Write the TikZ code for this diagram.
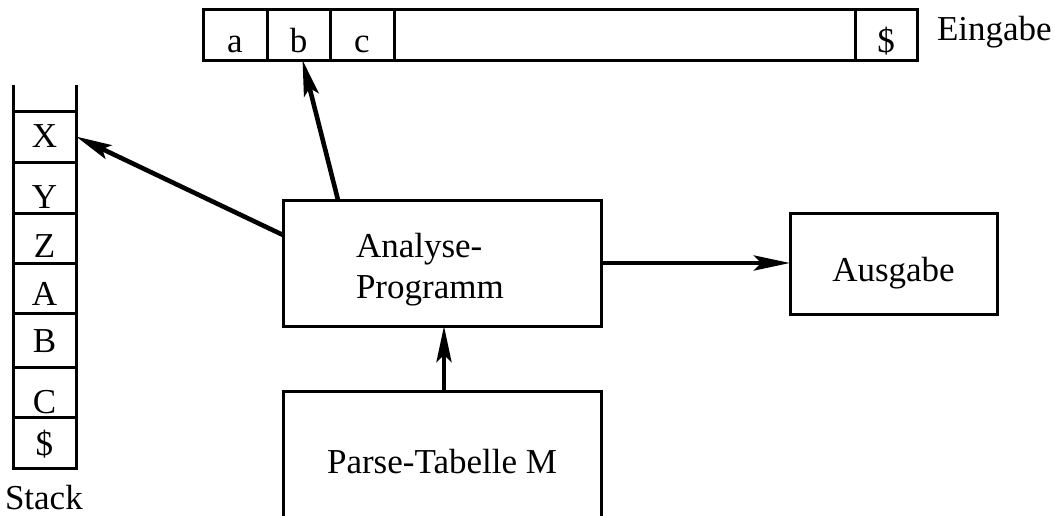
\documentclass[tikz,border=0pt]{standalone}
\usepackage{fontspec}
\setmainfont{Liberation Serif}
\usetikzlibrary{arrows.meta,calc}
\begin{document}
\begin{tikzpicture}[x=0.5pt,y=-0.5pt,
  font=\fontsize{17.5}{20.5}\selectfont,
  frame/.style={draw,line width=1.5pt,inner sep=0pt,outer sep=0pt},
  tapecell/.style={frame,anchor=south west,text height=21.5pt,text depth=4pt},
  stackcell/.style={frame,anchor=south,minimum width=31.5pt},
  plain/.style={inner sep=0pt,outer sep=0pt},
  flow/.style={line width=2.3pt,-{Stealth[length=18pt,width=7.5pt,inset=3.5pt]}},
]
\path[use as bounding box,clip] (0,0) rectangle (1055,515);

% input tape
\node[tapecell,minimum width=32pt]    (ta)  at (203,60) {a};
\node[tapecell,minimum width=31.5pt]  (tb)  at (267,60) {b};
\node[tapecell,minimum width=32pt]    (tc)  at (330,60) {c};
\node[tapecell,minimum width=230.5pt] (tr)  at (394,60) {};
\node[tapecell,minimum width=31pt]    (tend) at (855,60) {\$};
\node[plain,anchor=base west] (inlbl) at (937,40) {Eingabe};

% stack
\node[stackcell,text height=18pt,text depth=7.5pt]   (sX) at (44.5,162) {X};
\node[stackcell,text height=23pt,text depth=2.5pt]   (sY) at (44.5,213) {Y};
\node[stackcell,text height=22pt,text depth=3pt]     (sZ) at (44.5,263) {Z};
\node[stackcell,text height=21pt,text depth=4pt]     (sA) at (44.5,313) {A};
\node[stackcell,text height=19.5pt,text depth=7.5pt] (sB) at (44.5,367) {B};
\node[stackcell,text height=23pt,text depth=2pt]     (sC) at (44.5,417) {C};
\node[stackcell,text height=19pt,text depth=6.5pt]   (sD) at (44.5,468) {\$};
\draw[line width=1.5pt] (sX.north west) -- ++(0,-26) (sX.north east) -- ++(0,-26);
\node[plain,anchor=base west] (stlbl) at (5,509) {Stack};

% driver program
\node[frame,anchor=north west,minimum width=159pt,minimum height=63pt] (prog) at (283,200) {};
\node[plain,anchor=base west,align=left] (progtext) at (356,298) {Analyse-\\Programm};

% output
\node[frame,anchor=north west,minimum width=103.5pt,text height=34pt,text depth=16.5pt] (out) at (790,213) {Ausgabe};

% parse table
\node[frame,anchor=north west,minimum width=159pt,text height=41pt,text depth=41pt] (parse) at (283,391) {Parse-Tabelle M};

% connectors
\draw[flow] ([xshift=27.5pt]prog.north west) -- ([xshift=2pt]tb.south);
\draw[flow] ([yshift=14pt]prog.west) -- (sX.east);
\draw[flow] (prog.east) -- (prog.east -| out.west);
\draw[flow] ([xshift=1pt]parse.north) -- ([xshift=1pt]prog.south);
\end{tikzpicture}
\end{document}
